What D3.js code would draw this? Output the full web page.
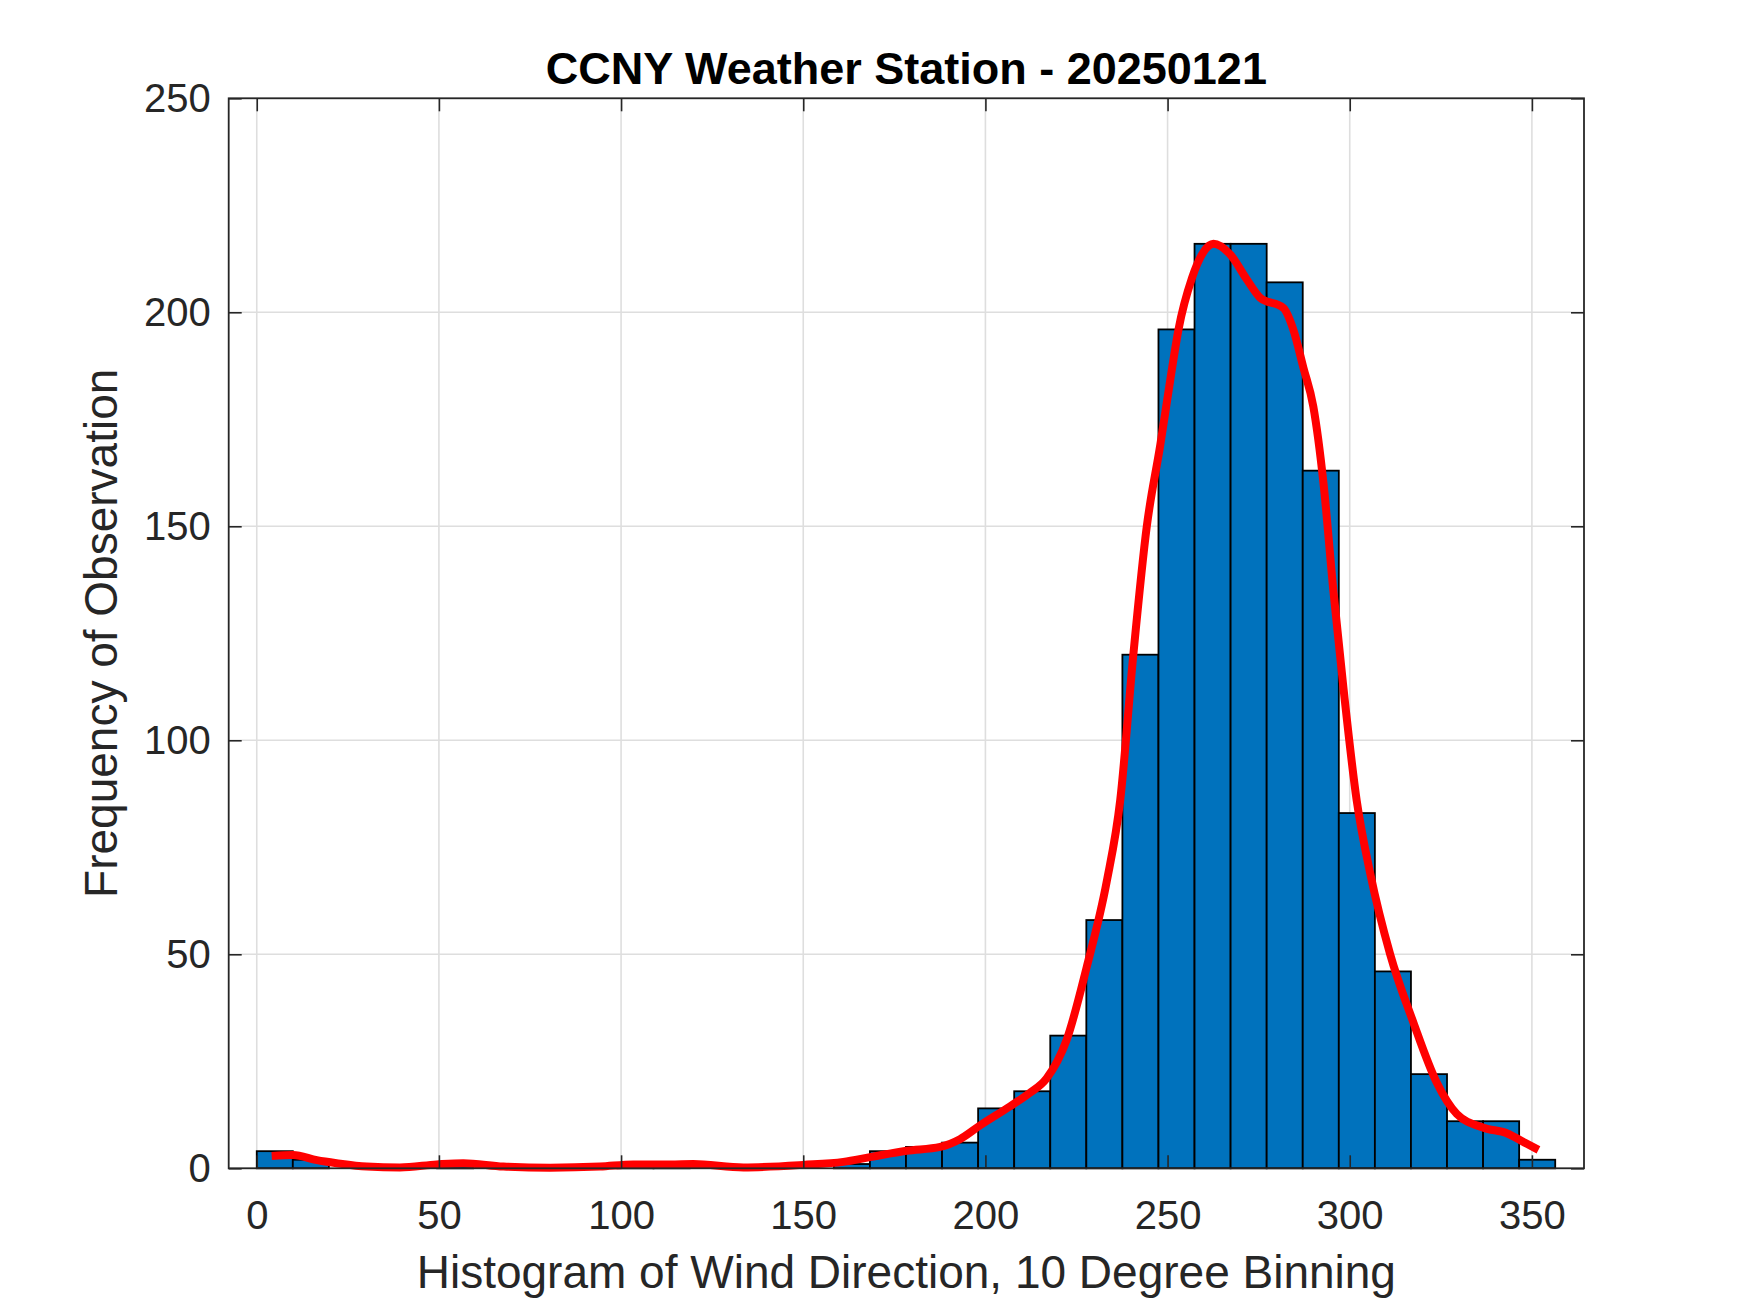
<!DOCTYPE html>
<html lang="en">
<head>
  <meta charset="UTF-8">
  <title>CCNY Weather Station - 20250121</title>
  <style>
    body { margin: 0; background: #fff; }
    text { font-family: "Liberation Sans", Arial, sans-serif; }
  </style>
</head>
<body>
  <script src="https://cdn.jsdelivr.net/npm/d3@7"></script>
  <script>
  // histogram bins (degrees), 36 bins from min to max of the data
  var binEdges = [0, 9.9, 19.8, 29.7, 39.6, 49.5, 59.4, 69.3, 79.2, 89.1,
    99, 108.9, 118.8, 128.7, 138.6, 148.5, 158.4, 168.3, 178.2, 188.1,
    198, 207.9, 217.8, 227.7, 237.6, 247.5, 257.4, 267.3, 277.2, 287.1,
    297, 306.9, 316.8, 326.7, 336.6, 346.5, 356.4];
  var binCounts = [4, 2, 0, 0, 0, 1, 0, 0, 0, 0,
    1, 1, 0, 0, 0, 0, 1, 4, 5, 6,
    14, 18, 31, 58, 120, 196, 216, 216, 207, 163,
    83, 46, 22, 11, 11, 2];

  // smoothed red curve
  var curveX = [4.1, 10, 16.5, 21.9, 30.2, 39.3, 49.4, 56.7, 67.7, 80.5,
    94.2, 103.3, 113.5, 119.8, 133.6, 150, 161, 168.3, 178.4, 187.6,
    193, 198.5, 206.8, 212, 216.8, 222.3, 227.8, 233.3, 237, 240.6,
    244.3, 248, 250.7, 253, 256.7, 259.8, 262.6, 267.2, 271.8, 275.4,
    281.8, 284.5, 287.3, 290, 292.8, 295.5, 298.3, 301.9, 305.6, 311.1,
    317.5, 323.9, 329.4, 336.7, 343.1, 348, 351.8];
  var curveY = [2.9, 3.1, 1.9, 1.2, 0.4, 0.2, 0.9, 1.2, 0.4, 0.15,
    0.4, 0.9, 0.9, 1.0, 0.2, 0.8, 1.5, 2.6, 4.1, 5.0,
    6.8, 10, 14.5, 17.5, 21, 30, 47, 67, 86, 120,
    150, 169, 184, 196, 208, 214, 216, 213.5, 207.6, 203.4,
    201, 196, 187, 178, 160, 135, 112, 86, 69, 50,
    34, 20, 12.7, 9.5, 8.2, 6, 4.3];

  var xTicks = [0, 50, 100, 150, 200, 250, 300, 350];
  var yTicks = [0, 50, 100, 150, 200, 250];

  var W = 1750, H = 1313;
  var pLeft = 228.7, pRight = 1584, pTop = 98.3, pBottom = 1168.3;

  var svg = d3.select('body').append('svg')
    .attr('width', W).attr('height', H);

  var x = d3.scaleLinear().domain([-7.7, 364.3]).range([pLeft, pRight]);
  var y = d3.scaleLinear().domain([0, 250]).range([pBottom, pTop]);

  // grid
  svg.append('g').selectAll('line')
    .data(xTicks).enter().append('line')
    .attr('x1', function (d) { return x(d); })
    .attr('x2', function (d) { return x(d); })
    .attr('y1', pTop).attr('y2', pBottom)
    .attr('stroke', '#dedede').attr('stroke-width', 1.6);
  svg.append('g').selectAll('line')
    .data(yTicks).enter().append('line')
    .attr('y1', function (d) { return y(d); })
    .attr('y2', function (d) { return y(d); })
    .attr('x1', pLeft).attr('x2', pRight)
    .attr('stroke', '#dedede').attr('stroke-width', 1.6);

  // bars
  svg.append('g').selectAll('rect')
    .data(binCounts).enter().append('rect')
    .attr('x', function (d, i) { return x(binEdges[i]); })
    .attr('width', function (d, i) { return x(binEdges[i + 1]) - x(binEdges[i]); })
    .attr('y', function (d) { return y(d); })
    .attr('height', function (d) { return y(0) - y(d); })
    .attr('fill', '#0072bd')
    .attr('stroke', '#000')
    .attr('stroke-width', 1.8);

  // red smoothed line
  var line = d3.line()
    .x(function (d) { return x(d[0]); })
    .y(function (d) { return y(d[1]); })
    .curve(d3.curveMonotoneX);
  svg.append('path')
    .datum(curveX.map(function (v, i) { return [v, curveY[i]]; }))
    .attr('d', line)
    .attr('fill', 'none')
    .attr('stroke', '#ff0000')
    .attr('stroke-width', 8)
    .attr('stroke-linejoin', 'round');

  // axes (ticks inward on all four sides)
  var axisColor = '#262626';
  function styleAxis(g) {
    g.selectAll('.domain').remove();
    g.selectAll('.tick line').attr('stroke', axisColor).attr('stroke-width', 1.6);
    g.selectAll('.tick text').attr('fill', axisColor)
      .style('font-family', '"Liberation Sans", Arial, sans-serif')
      .style('font-size', '40px');
  }

  svg.append('g').attr('transform', 'translate(0,' + pBottom + ')')
    .call(d3.axisBottom(x).tickValues(xTicks).tickSizeInner(-13).tickSizeOuter(0).tickPadding(32))
    .call(styleAxis);
  svg.append('g').attr('transform', 'translate(0,' + pTop + ')')
    .call(d3.axisTop(x).tickValues(xTicks).tickSizeInner(-13).tickSizeOuter(0).tickFormat(''))
    .call(styleAxis);
  svg.append('g').attr('transform', 'translate(' + pLeft + ',0)')
    .call(d3.axisLeft(y).tickValues(yTicks).tickSizeInner(-13).tickSizeOuter(0).tickPadding(18))
    .call(styleAxis);
  svg.append('g').attr('transform', 'translate(' + pRight + ',0)')
    .call(d3.axisRight(y).tickValues(yTicks).tickSizeInner(-13).tickSizeOuter(0).tickFormat(''))
    .call(styleAxis);

  // box
  svg.append('rect')
    .attr('x', pLeft).attr('y', pTop)
    .attr('width', pRight - pLeft).attr('height', pBottom - pTop)
    .attr('fill', 'none').attr('stroke', axisColor).attr('stroke-width', 1.8);

  // texts
  var cx = (pLeft + pRight) / 2;
  svg.append('text')
    .attr('x', cx).attr('y', 84)
    .attr('text-anchor', 'middle')
    .attr('font-size', 45).attr('font-weight', 'bold')
    .attr('fill', '#000')
    .text('CCNY Weather Station - 20250121');

  svg.append('text')
    .attr('x', cx).attr('y', 1288)
    .attr('text-anchor', 'middle')
    .attr('font-size', 46)
    .attr('fill', axisColor)
    .text('Histogram of Wind Direction, 10 Degree Binning');

  svg.append('text')
    .attr('transform', 'translate(117,' + ((pTop + pBottom) / 2) + ') rotate(-90)')
    .attr('text-anchor', 'middle')
    .attr('font-size', 46)
    .attr('fill', axisColor)
    .text('Frequency of Observation');
  </script>
</body>
</html>
